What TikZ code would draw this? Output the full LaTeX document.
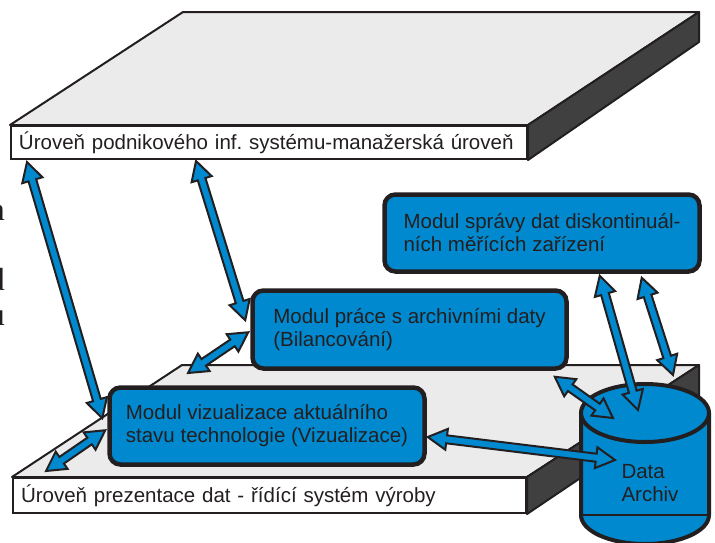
\documentclass[tikz,border=0pt]{standalone}
\usepackage{fontspec}
\setmainfont{Liberation Sans}
\newfontfamily\fragserif{Liberation Serif}
\usetikzlibrary{calc}
\definecolor{ink}{HTML}{231F20}
\definecolor{modblue}{HTML}{0089CF}
\definecolor{slabtop}{HTML}{EBEBEB}
\definecolor{slabside}{HTML}{404040}
\newcommand{\labelfont}{\fontsize{20.5}{23}\selectfont}
\newcommand{\headlen}{19pt}
\newcommand{\headhalf}{10.5pt}
\newcommand{\shafthalf}{4pt}
% wide two-headed block arrow between two named points
\newcommand{\duplexarrow}[2]{%
  \draw[duplex] (#1)
    -- ($(#1)!\headlen!(#2)!\headhalf!90:(#2)$)
    -- ($(#1)!\headlen!(#2)!\shafthalf!90:(#2)$)
    -- ($(#2)!\headlen!(#1)!\shafthalf!-90:(#1)$)
    -- ($(#2)!\headlen!(#1)!\headhalf!-90:(#1)$)
    -- (#2)
    -- ($(#2)!\headlen!(#1)!\headhalf!90:(#1)$)
    -- ($(#2)!\headlen!(#1)!\shafthalf!90:(#1)$)
    -- ($(#1)!\headlen!(#2)!\shafthalf!-90:(#2)$)
    -- ($(#1)!\headlen!(#2)!\headhalf!-90:(#2)$)
    -- cycle;}
\tikzset{
  slabfront/.style={draw=ink,line width=2pt,fill=white,anchor=north west,align=left,font=\labelfont,text=ink,inner xsep=8pt,inner ysep=0pt},
  slabface/.style={draw=ink,line width=2pt,fill=slabtop,line join=round},
  slabshade/.style={draw=ink,line width=2pt,fill=slabside,line join=round},
  modul/.style={draw=ink,line width=4.5pt,rounded corners=11pt,fill=modblue,text=ink,align=left,font=\labelfont,minimum width=315pt,minimum height=77pt},
  archive/.style={draw=ink,line width=4pt},
  duplex/.style={draw=ink,line width=2pt,fill=modblue,line join=miter},
  fragment/.style={font=\fragserif\fontsize{32}{36}\selectfont,text=ink,anchor=base east,inner sep=0pt}
}

\begin{document}
\begin{tikzpicture}[x=1pt,y=-1pt]
  \useasboundingbox (0,0) rectangle (715,542);
  \clip (0,0) rectangle (715,542);

  \node[fragment] (fragn) at (5,220) {n};
  \node[fragment] (fragd) at (5,290) {d};
  \node[fragment] (fragu) at (5,325) {u};

  % upper level slab
  \node[slabfront,text width=500pt,minimum height=33pt] (mgmt) at (10,125) {Úroveň podnikového inf.\ systému-manažerská úroveň};
  \draw[slabface] (mgmt.north west) -- ++(173,-113) -- ($(mgmt.north east)+(171,-113)$) -- (mgmt.north east) -- cycle;
  \draw[slabshade] (mgmt.north east) -- ++(171,-113) -- ++(0,30) -- (mgmt.south east) -- cycle;

  % lower level slab
  \node[slabfront,text width=497pt,minimum height=35pt] (prez) at (12,477) {Úroveň prezentace dat - řídící systém výroby};
  \draw[slabface] (prez.north west) -- ++(170,-112) -- ($(prez.north east)+(172,-112)$) -- (prez.north east) -- cycle;
  \draw[slabshade] (prez.north east) -- ++(172,-112) -- ++(0,33) -- (prez.south east) -- cycle;

  \node[modul] (spravy) at (542,233) {Modul správy dat diskontinuál-\\ních měřících zařízení};
  \node[modul,minimum width=314pt,minimum height=78pt] (bilanc) at (409.5,329.5) {Modul práce s archivními daty\\(Bilancování)};
  \node[modul] (vizual) at (267,426) {Modul vizualizace aktuálního\\stavu technologie (Vizualizace)};

  % data archive drum
  \coordinate (archivtop) at (645,413);
  \coordinate (archivbase) at (645,515);
  \fill[modblue] ($(archivtop)+(-64,0)$) -- ($(archivbase)+(-64,0)$) arc[start angle=180,end angle=360,x radius=64pt,y radius=29pt] -- ($(archivtop)+(64,0)$) -- cycle;
  \draw[ink,line width=1.2pt] ($(archivbase)+(-64,0)$) -- ($(archivbase)+(64,0)$);
  \draw[archive] ($(archivtop)+(-64,0)$) -- ($(archivbase)+(-64,0)$) arc[start angle=180,end angle=360,x radius=64pt,y radius=29pt] -- ($(archivtop)+(64,0)$);
  \draw[archive,fill=modblue] (archivtop) ellipse [x radius=64pt,y radius=29pt];
  \node[font=\labelfont,text=ink,align=left] (archiv) at (650,483) {Data\\Archiv};

  \coordinate (mgmtA) at ($(mgmt.south west)+(17,2)$);
  \coordinate (mgmtB) at ($(mgmt.south west)+(186,1)$);
  \coordinate (prezA) at ($(prez.north west)+(176,-104)$);
  \coordinate (prezB) at ($(prez.north west)+(34,-6)$);
  \coordinate (vizA) at ($(vizual.north west)+(-5,33)$);
  \coordinate (vizB) at ($(vizual.north west)+(-2,45)$);
  \coordinate (vizC) at ($(vizual.east)+(1,11)$);
  \coordinate (bilA) at ($(bilanc.north west)+(-5,32)$);
  \coordinate (bilB) at ($(bilanc.north west)+(-2,44)$);
  \coordinate (bilC) at ($(bilanc.south east)+(-14,6)$);
  \coordinate (sprA) at ($(spravy.south east)+(-102,2)$);
  \coordinate (sprB) at ($(spravy.south east)+(-60,4)$);
  \coordinate (archA) at ($(archivtop)+(-30,47)$);
  \coordinate (archB) at ($(archivtop)+(-32,5)$);
  \coordinate (archC) at ($(archivtop)+(-7,-3)$);
  \coordinate (archD) at ($(archivtop)+(28,-38)$);

  \duplexarrow{mgmtA}{vizA}
  \duplexarrow{mgmtB}{bilA}
  \duplexarrow{prezA}{bilB}
  \duplexarrow{prezB}{vizB}
  \duplexarrow{vizC}{archA}
  \duplexarrow{bilC}{archB}
  \duplexarrow{sprA}{archC}
  \duplexarrow{sprB}{archD}
\end{tikzpicture}
\end{document}
